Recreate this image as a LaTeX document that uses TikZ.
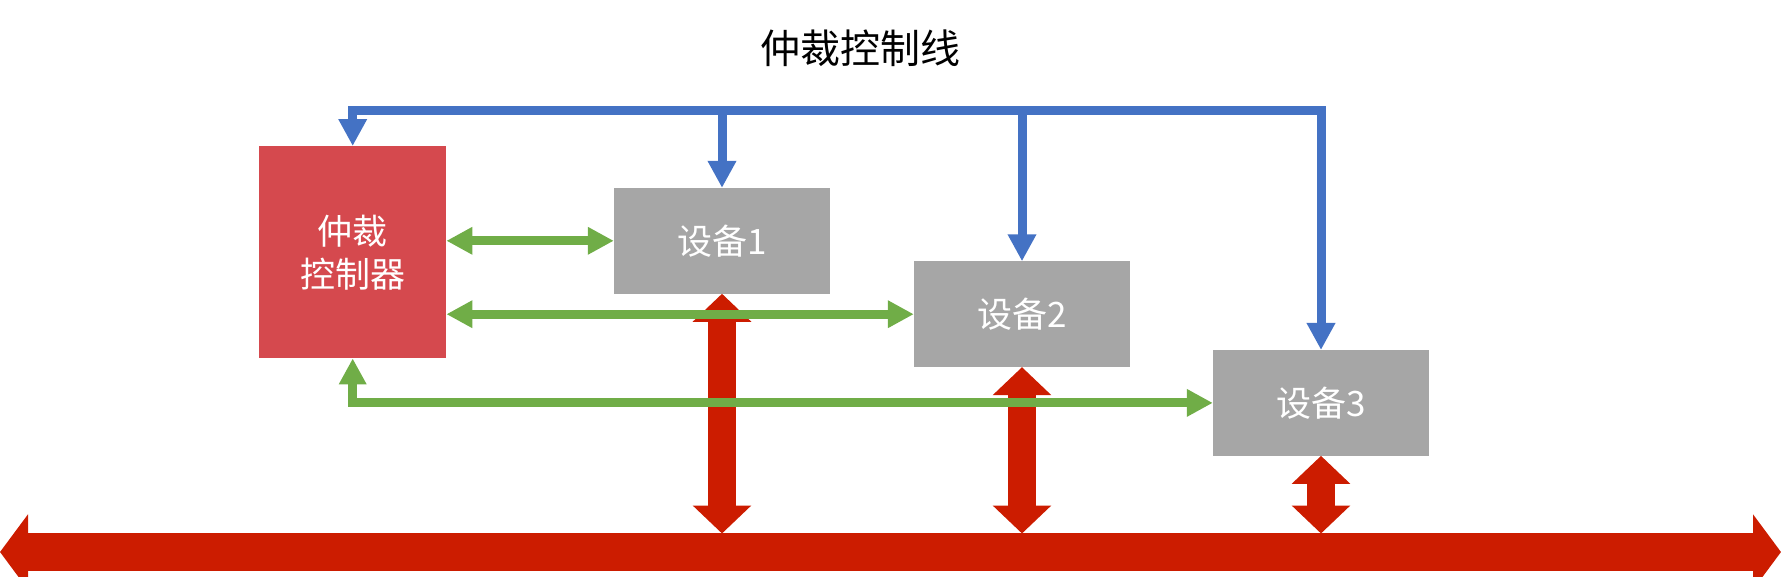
\documentclass[tikz,border=0pt]{standalone}
\usepackage{fontspec}
\setmainfont{Noto Sans CJK SC}
\usetikzlibrary{arrows.meta}
\definecolor{ctrlblue}{HTML}{4472C4}
\definecolor{reqgreen}{HTML}{70AD47}
\definecolor{arbred}{HTML}{D5494E}
\definecolor{devgrey}{HTML}{A6A6A6}
\definecolor{busred}{HTML}{CC1C00}

\begin{document}
\begin{tikzpicture}[x=1pt,y=-1pt,
	  box/.style={rectangle,inner sep=0pt,text=white,align=center,font=\fontsize{35}{43}\selectfont},
	  arbiter/.style={box,fill=arbred,minimum width=187pt,minimum height=212pt},
	  device/.style={box,fill=devgrey,minimum width=216pt,minimum height=105.5pt},
	  ctrl/.style={draw=ctrlblue,line width=9pt,miter limit=10,>={Triangle[width=27pt,length=27pt]}},
	  req/.style={draw=reqgreen,line width=9pt,>={Triangle[width=26pt,length=26pt]}},
	  data/.style={draw=busred,line width=28pt,>={Triangle[width=57pt,length=28pt]}},
	  bus/.style={draw=busred,line width=38pt,>={Triangle[width=74pt,length=28pt]}}]
	  \tikzstyle{title} = [font=\fontsize{40}{48}\selectfont,color=black]
	  \useasboundingbox (0,0) rectangle (1781,576);
	  \node (title) [title] at (860,48) {仲裁控制线};
	  \node (arb) [arbiter] at (352.7,252.2) {仲裁\\控制器};
	  \node (dev_1) [device] at (722,240.8) {设备1};
	  \node (dev_2) [device] at (1022,314.2) {设备2};
	  \node (dev_3) [device] at (1321,402.9) {设备3};
	  \coordinate (top) at (0,110.5);
	  \coordinate (bus_l) at (0,552);
	  \coordinate (bus_r) at (1781,552);
	  \coordinate (bus) at (0,533.5);
	  \draw[bus,<->] (bus_l) -- (bus_r);
	  \draw[data,<->] (dev_1.south) -- (dev_1.south |- bus);
	  \draw[data,<->] (dev_2.south) -- (dev_2.south |- bus);
	  \draw[data,<->] (dev_3.south) -- (dev_3.south |- bus);
	  \draw[req,<->] (arb.east |- dev_1.west) -- (dev_1.west);
	  \draw[req,<->] (arb.east |- dev_2.west) -- (dev_2.west);
	  \draw[req,<->] (arb.south) |- (dev_3.west);
	  \draw[ctrl,<->] (dev_3.north) -- (dev_3.north |- top) -| (arb.north);
	  \draw[ctrl,->] (dev_1.north |- top) -- (dev_1.north);
	  \draw[ctrl,->] (dev_2.north |- top) -- (dev_2.north);
\end{tikzpicture}
\end{document}
